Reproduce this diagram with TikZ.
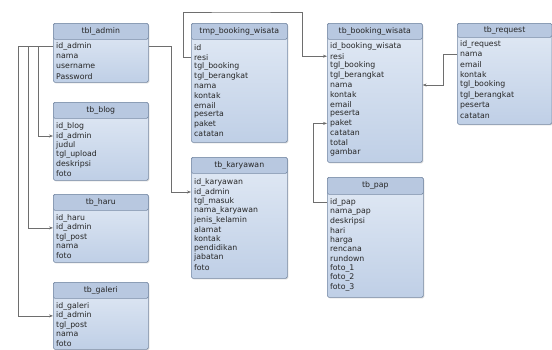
\documentclass[tikz,border=0pt]{standalone}
\usepackage{fontspec}
\setsansfont{DejaVu Sans}
\usetikzlibrary{arrows.meta,shadows}
\definecolor{tblline}{HTML}{7A8CA6}
\definecolor{tbltop}{HTML}{E2EAF5}
\definecolor{tblbot}{HTML}{BFCFE6}
\definecolor{tblhead}{HTML}{B8C8E0}
\definecolor{fkgray}{HTML}{6E6E6E}

\begin{document}
\begin{tikzpicture}[
    x=1pt, y=-1pt,
    tablebox/.style={draw=tblline, line width=0.6pt, rounded corners=1.5pt, top color=tbltop, bottom color=tblbot, anchor=north west, inner sep=0pt, drop shadow={shadow xshift=1pt, shadow yshift=-1pt, opacity=0.3}},
    tablehead/.style={draw=tblline, line width=0.6pt, fill=tblhead, rounded corners=1.5pt, anchor=north, inner sep=0pt, font=\sffamily\fontsize{7.8}{8}\selectfont, text=black!85},
    field/.style={anchor=west, inner sep=0pt, font=\sffamily\fontsize{7.8}{8}\selectfont, text=black!85},
    fkline/.style={draw=fkgray, line width=0.6pt, -{Stealth[length=4pt,width=3pt]}}
]
\useasboundingbox (0,0) rectangle (552,349);

% left column
\node[tablebox, minimum width=95, minimum height=59] (admin) at (53,23) {};
\node[tablehead, minimum width=95, minimum height=16] (admin-h) at (admin.north) {tbl\_admin};
\foreach \f [count=\i] in {id\_admin,nama,username,Password}
  \path (admin-h.south west) ++(3,{7+(\i-1)*10}) node[field] (admin-\i) {\f};

\node[tablebox, minimum width=95, minimum height=78] (blog) at (53,102) {};
\node[tablehead, minimum width=95, minimum height=16] (blog-h) at (blog.north) {tb\_blog};
\foreach \f [count=\i] in {id\_blog,id\_admin,judul,tgl\_upload,deskripsi,foto}
  \path (blog-h.south west) ++(3,{8+(\i-1)*9.4}) node[field] (blog-\i) {\f};

\node[tablebox, minimum width=95, minimum height=68] (haru) at (53,194) {};
\node[tablehead, minimum width=95, minimum height=16] (haru-h) at (haru.north) {tb\_haru};
\foreach \f [count=\i] in {id\_haru,id\_admin,tgl\_post,nama,foto}
  \path (haru-h.south west) ++(3,{8+(\i-1)*9.3}) node[field] (haru-\i) {\f};

\node[tablebox, minimum width=95, minimum height=67] (galeri) at (53,282) {};
\node[tablehead, minimum width=95, minimum height=16] (galeri-h) at (galeri.north) {tb\_galeri};
\foreach \f [count=\i] in {id\_galeri,id\_admin,tgl\_post,nama,foto}
  \path (galeri-h.south west) ++(3,{8+(\i-1)*9.3}) node[field] (galeri-\i) {\f};

% middle column
\node[tablebox, minimum width=96, minimum height=119] (tmp) at (191,23) {};
\node[tablehead, minimum width=96, minimum height=16] (tmp-h) at (tmp.north) {tmp\_booking\_wisata};
\foreach \f [count=\i] in {id,resi,tgl\_booking,tgl\_berangkat,nama,kontak,email,peserta,paket,catatan}
  \path (tmp-h.south west) ++(3,{8+(\i-1)*9.6}) node[field] (tmp-\i) {\f};

\node[tablebox, minimum width=96, minimum height=121] (karyawan) at (191,157) {};
\node[tablehead, minimum width=96, minimum height=16] (karyawan-h) at (karyawan.north) {tb\_karyawan};
\foreach \f [count=\i] in {id\_karyawan,id\_admin,tgl\_masuk,nama\_karyawan,jenis\_kelamin,alamat,kontak,pendidikan,jabatan,foto}
  \path (karyawan-h.south west) ++(3,{9+(\i-1)*9.4}) node[field] (karyawan-\i) {\f};

% right column
\node[tablebox, minimum width=95, minimum height=139] (booking) at (327,23) {};
\node[tablehead, minimum width=95, minimum height=16] (booking-h) at (booking.north) {tb\_booking\_wisata};
\foreach \f [count=\i] in {id\_booking\_wisata,resi,tgl\_booking,tgl\_berangkat,nama,kontak,email,peserta,paket,catatan,total,gambar}
  \path (booking-h.south west) ++(3,{7+(\i-1)*9.6}) node[field] (booking-\i) {\f};

\node[tablebox, minimum width=96, minimum height=120] (pap) at (327,177) {};
\node[tablehead, minimum width=96, minimum height=17] (pap-h) at (pap.north) {tb\_pap};
\foreach \f [count=\i] in {id\_pap,nama\_pap,deskripsi,hari,harga,rencana,rundown,foto\_1,foto\_2,foto\_3}
  \path (pap-h.south west) ++(3,{8+(\i-1)*9.4}) node[field] (pap-\i) {\f};

\node[tablebox, minimum width=94.5, minimum height=101] (request) at (457,23) {};
\node[tablehead, minimum width=94.5, minimum height=14] (request-h) at (request.north) {tb\_request};
\foreach \f [count=\i] in {id\_request,nama,email,kontak,tgl\_booking,tgl\_berangkat,peserta,catatan}
  \path (request-h.south west) ++(3,{6.5+(\i-1)*10.2}) node[field] (request-\i) {\f};

% relations
\draw[fkline] (admin.west |- admin-1) -- ++(-15,0) |- (blog.west |- blog-2);
\draw[fkline] (admin.west |- admin-1) -- ++(-25,0) |- (haru.west |- haru-2);
\draw[fkline] (admin.west |- admin-1) -- ++(-35,0) |- (galeri.west |- galeri-2);
\draw[fkline] (admin.east |- admin-1) -- ++(23,0) |- (karyawan.west |- karyawan-2);
\draw[fkline] (tmp.west |- tmp-2) -- ++(-8,0) |- ([yshift=11pt]tmp.north) -| ([xshift=-25pt]booking.west |- booking-2) -- (booking.west |- booking-2);
\draw[fkline] (pap.west |- pap-1) -- ++(-14,0) |- (booking.west |- booking-9);
\draw[fkline] (request.west |- request-2) -- ++(-14,0) |- (booking.east |- booking-5);
\end{tikzpicture}
\end{document}
